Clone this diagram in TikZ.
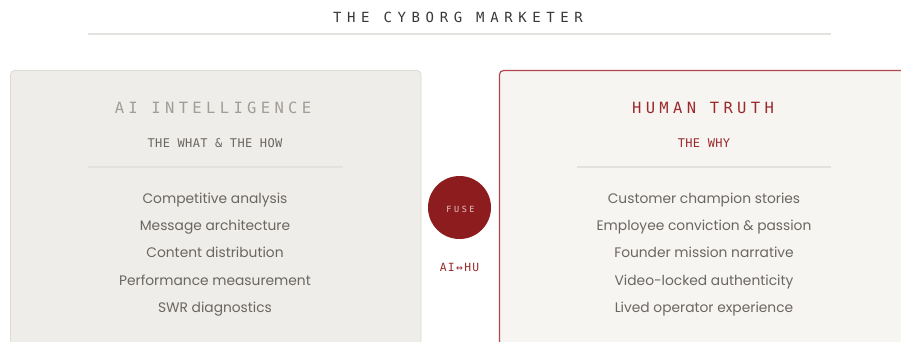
\documentclass[tikz,border=0pt]{standalone}
\usepackage{fontspec}
\setmainfont{Poppins}
\newfontfamily\monoT[LetterSpace=40]{DejaVu Sans Mono}
\newfontfamily\monoA[LetterSpace=28]{DejaVu Sans Mono}
\newfontfamily\monoB[LetterSpace=12]{DejaVu Sans Mono}
\newfontfamily\monoF[LetterSpace=30]{DejaVu Sans Mono}
\newfontfamily\monoC[LetterSpace=3]{DejaVu Sans Mono}
\definecolor{leftfill}{HTML}{EFEDE9}
\definecolor{leftline}{HTML}{DEDBD6}
\definecolor{rightfill}{HTML}{F7F5F2}
\definecolor{rightline}{HTML}{B0474A}
\definecolor{fusered}{HTML}{8C1C1D}
\definecolor{redtext}{HTML}{9A2A2C}
\definecolor{grayhead}{HTML}{A19D98}
\definecolor{graysub}{HTML}{6A6662}
\definecolor{itemgray}{HTML}{6A6662}
\definecolor{titlegray}{HTML}{3A3836}
\definecolor{rulegray}{HTML}{E4E2DE}
\begin{document}
\begin{tikzpicture}[x=1pt,y=-1pt,
  item/.style={font=\fontsize{13.8}{16}\selectfont, text=itemgray, anchor=base, inner sep=0pt},
  head/.style={font=\monoA\fontsize{15.5}{18}\selectfont, anchor=base, inner sep=0pt},
  sub/.style={font=\monoC\fontsize{12}{14}\selectfont, anchor=base, inner sep=0pt},
  rulel/.style={draw=rulegray, line width=1.5pt}]
\useasboundingbox (0,0) rectangle (901,341);
\clip (0,0) rectangle (901,341);
\fill[white] (0,0) rectangle (901,341);
% title
\node[font=\monoT\fontsize{14}{16}\selectfont, text=titlegray, inner sep=0pt, anchor=base] (title) at (458,22.5) {THE CYBORG MARKETER};
\coordinate (tl) at (88,34); \coordinate (tr) at (831,34);
\draw[rulel, line width=1.2pt] (tl) -- (tr);
% left panel
\draw[fill=leftfill, draw=leftline, line width=0.8pt, rounded corners=4pt] (10.5,70.5) rectangle (421,360);
\node[head, text=grayhead] (lh) at (213,113) {AI INTELLIGENCE};
\node[sub, text=graysub] (ls) at (215,147.5) {THE WHAT \& THE HOW};
\coordinate (l1) at (88,167); \coordinate (l2) at (343,167);
\draw[rulel] (l1) -- (l2);
\node[item] (a1) at (215,203) {Competitive analysis};
\node[item] (a2) at (215,230) {Message architecture};
\node[item] (a3) at (215,257) {Content distribution};
\node[item] (a4) at (215,285) {Performance measurement};
\node[item] (a5) at (215,312) {SWR diagnostics};
% right panel
\draw[fill=rightfill, draw=rightline, line width=1.2pt, rounded corners=4pt] (499.5,70.5) rectangle (930,360);
\node[head, text=redtext] (rh) at (703,113) {HUMAN TRUTH};
\node[sub, text=redtext] (rs) at (704,147.5) {THE WHY};
\coordinate (r1) at (577,167); \coordinate (r2) at (831,167);
\draw[rulel] (r1) -- (r2);
\node[item] (b1) at (704,203) {Customer champion stories};
\node[item] (b2) at (704,230) {Employee conviction \& passion};
\node[item] (b3) at (704,257) {Founder mission narrative};
\node[item] (b4) at (704,285) {Video-locked authenticity};
\node[item] (b5) at (704,312) {Lived operator experience};
% fuse
\node[circle, fill=fusered, minimum size=63pt, inner sep=0pt] (fuse) at (459.5,207.5) {};
\node[font=\monoF\fontsize{8.5}{10}\selectfont, text=white!75!fusered, inner sep=0pt, anchor=base] (fusel) at (460.5,212.5) {FUSE};
\node[font=\monoB\fontsize{11.3}{13}\selectfont, text=redtext, inner sep=0pt, anchor=base] (aihu) at (459.5,271) {AI↔HU};
\end{tikzpicture}
\end{document}
